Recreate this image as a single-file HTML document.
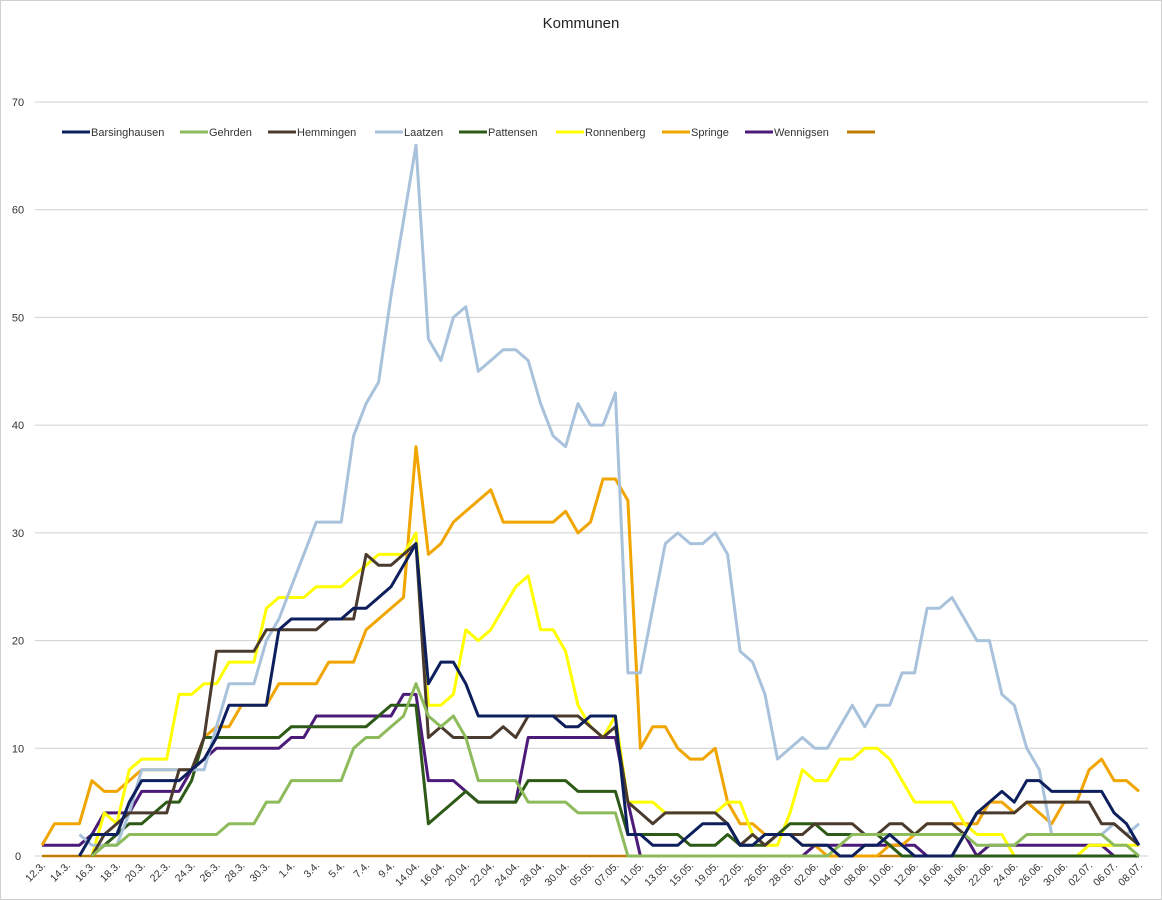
<!DOCTYPE html>
<html><head><meta charset="utf-8"><style>
body{margin:0;background:#fff;}
#wrap{position:relative;width:1162px;height:900px;overflow:hidden;font-family:"Liberation Sans",sans-serif;}
svg{position:absolute;left:0;top:0;}
</style></head><body>
<div id="wrap">
<svg id="chart" width="1162" height="900">
<rect x="0.5" y="0.5" width="1161" height="899" fill="#fff" stroke="#d0d0d0"/>
<text x="581" y="28" text-anchor="middle" font-size="15" fill="#222">Kommunen</text>
<g id="grid"></g><g id="yticks"></g><g id="xticks"></g><g id="series"></g><g id="legend"></g>
</svg>
</div>
<script>
const xLabels=["12.3.","14.3.","16.3.","18.3.","20.3.","22.3.","24.3.","26.3.","28.3.","30.3.","1.4.","3.4.","5.4.","7.4.","9.4.","14.04.","16.04.","20.04.","22.04.","24.04.","28.04.","30.04.","05.05.","07.05.","11.05.","13.05.","15.05.","19.05.","22.05.","26.05.","28.05.","02.06.","04.06.","08.06.","10.06.","12.06.","16.06.","18.06.","22.06.","24.06.","26.06.","30.06.","02.07.","06.07.","08.07."];
const yTicks=[0,10,20,30,40,50,60,70];
const N=89;
const seriesNames=["Barsinghausen","Gehrden","Hemmingen","Laatzen","Pattensen","Ronnenberg","Springe","Wennigsen",""];
const seriesColors=["#0d1f5c","#8dbb5c","#4a3b2e","#a9c2dc","#2d5a16","#ffff00","#f0a500","#4c1a78","#c07c00"];
const _=null;
const barsinghausen=[_,_,_,0,2,2,2,5,7,7,7,7,8,9,11,14,14,14,14,21,22,22,22,22,22,23,23,24,25,27,29,16,18,18,16,13,13,13,13,13,13,13,12,12,13,13,13,2,2,1,1,1,2,3,3,3,1,1,2,2,2,1,1,1,0,0,1,1,2,1,0,0,0,0,2,4,5,6,5,7,7,6,6,6,6,6,4,3,1];
const gehrden=[_,_,_,_,0,1,1,2,2,2,2,2,2,2,2,3,3,3,5,5,7,7,7,7,7,10,11,11,12,13,16,13,12,13,11,7,7,7,7,5,5,5,5,4,4,4,4,0,0,0,0,0,0,0,0,0,0,0,0,0,0,0,0,0,1,2,2,2,2,2,2,2,2,2,2,1,1,1,1,2,2,2,2,2,2,2,1,1,0];
const hemmingen=[_,_,_,_,0,2,3,4,4,4,4,8,8,11,19,19,19,19,21,21,21,21,21,22,22,22,28,27,27,28,29,11,12,11,11,11,11,12,11,13,13,13,13,13,12,11,12,5,4,3,4,4,4,4,4,3,1,2,1,2,2,2,3,3,3,3,2,2,3,3,2,3,3,3,2,4,4,4,4,5,5,5,5,5,5,3,3,2,1];
const laatzen=[_,_,_,2,1,1,1,4,8,8,8,8,8,8,12,16,16,16,20,22,25,28,31,31,31,39,42,44,52,59,66,48,46,50,51,45,46,47,47,46,42,39,38,42,40,40,43,17,17,23,29,30,29,29,30,28,19,18,15,9,10,11,10,10,12,14,12,14,14,17,17,23,23,24,22,20,20,15,14,10,8,2,2,2,2,2,3,2,3];
const pattensen=[_,_,_,_,0,1,2,3,3,4,5,5,7,11,11,11,11,11,11,11,12,12,12,12,12,12,12,13,14,14,14,3,4,5,6,5,5,5,5,7,7,7,7,6,6,6,6,2,2,2,2,2,1,1,1,2,1,1,1,2,3,3,3,2,2,2,2,2,1,0,0,0,0,0,0,0,0,0,0,0,0,0,0,0,0,0,0,0,0];
const ronnenberg=[_,_,_,_,0,4,3,8,9,9,9,15,15,16,16,18,18,18,23,24,24,24,25,25,25,26,27,28,28,28,30,14,14,15,21,20,21,23,25,26,21,21,19,14,12,11,13,5,5,5,4,4,4,4,4,5,5,2,1,1,4,8,7,7,9,9,10,10,9,7,5,5,5,5,3,2,2,2,0,0,0,0,0,0,1,1,1,1,1];
const springe=[1,3,3,3,7,6,6,7,8,8,8,8,8,11,12,12,14,14,14,16,16,16,16,18,18,18,21,22,23,24,38,28,29,31,32,33,34,31,31,31,31,31,32,30,31,35,35,33,10,12,12,10,9,9,10,5,3,3,2,2,2,1,1,0,0,0,0,0,1,1,2,3,3,3,3,3,5,5,4,5,4,3,5,5,8,9,7,7,6];
const wennigsen=[1,1,1,1,2,4,4,4,6,6,6,6,8,9,10,10,10,10,10,10,11,11,13,13,13,13,13,13,13,15,15,7,7,7,6,5,5,5,5,11,11,11,11,11,11,11,11,5,0,0,0,0,0,0,0,0,0,0,0,0,0,0,1,1,1,1,1,1,1,1,1,0,0,0,2,0,1,1,1,1,1,1,1,1,1,1,0,0,0];
const unnamed=new Array(N).fill(0);
const seriesData=[barsinghausen,gehrden,hemmingen,laatzen,pattensen,ronnenberg,springe,wennigsen,unnamed];

const X0=42,X1=1139,Y0=856,Y70=102;
const xPos=i=>X0+(X1-X0)*i/(N-1);
const yPos=v=>Y0-(Y0-Y70)*v/70;
const NS="http://www.w3.org/2000/svg";
function mk(tag,attrs,parent){const e=document.createElementNS(NS,tag);for(const k in attrs)e.setAttribute(k,attrs[k]);parent.appendChild(e);return e;}
const grid=document.getElementById('grid'),yt=document.getElementById('yticks'),xt=document.getElementById('xticks'),sg=document.getElementById('series'),lg=document.getElementById('legend');
yTicks.forEach(v=>{
  const l=mk('line',{x1:35,x2:1148,y1:yPos(v),y2:yPos(v),stroke:'#d0d0d0','stroke-width':1},grid);
  
  
  const t=mk('text',{x:18,y:yPos(v)+4,'text-anchor':'middle','font-size':11,fill:'#333'},yt);
  t.textContent=v;
  
  
});
xLabels.forEach((s,k)=>{
  const x=xPos(k*2),y=866;
  const t=mk('text',{x:x+4,y:y,'text-anchor':'end','font-size':10.5,fill:'#333',transform:`rotate(-45 ${x+4} ${y})`},xt);
  t.textContent=s;
  
  
});
for(let s=seriesData.length-1;s>=0;s--){
  const d=seriesData[s];let path='';let pen=false;
  d.forEach((v,i)=>{if(v===null){pen=false;return;}path+=(pen?'L':'M')+xPos(i).toFixed(1)+' '+yPos(v).toFixed(1)+' ';pen=true;});
  const p=mk('path',{d:path,fill:'none',stroke:seriesColors[s],'stroke-width':s===8?2.5:3,'stroke-linejoin':'round'},sg);
  
  
}
const legX=[62,180,268,375,459,556,662,745,847];
seriesNames.forEach((n,s)=>{
  const g=mk('g',{},lg);
  
  
  mk('line',{x1:legX[s],x2:legX[s]+28,y1:132,y2:132,stroke:seriesColors[s],'stroke-width':3},g);
  const t=mk('text',{x:legX[s]+29,y:136,'font-size':11,fill:'#333'},g);
  t.textContent=n;
});
</script>
</body></html>
